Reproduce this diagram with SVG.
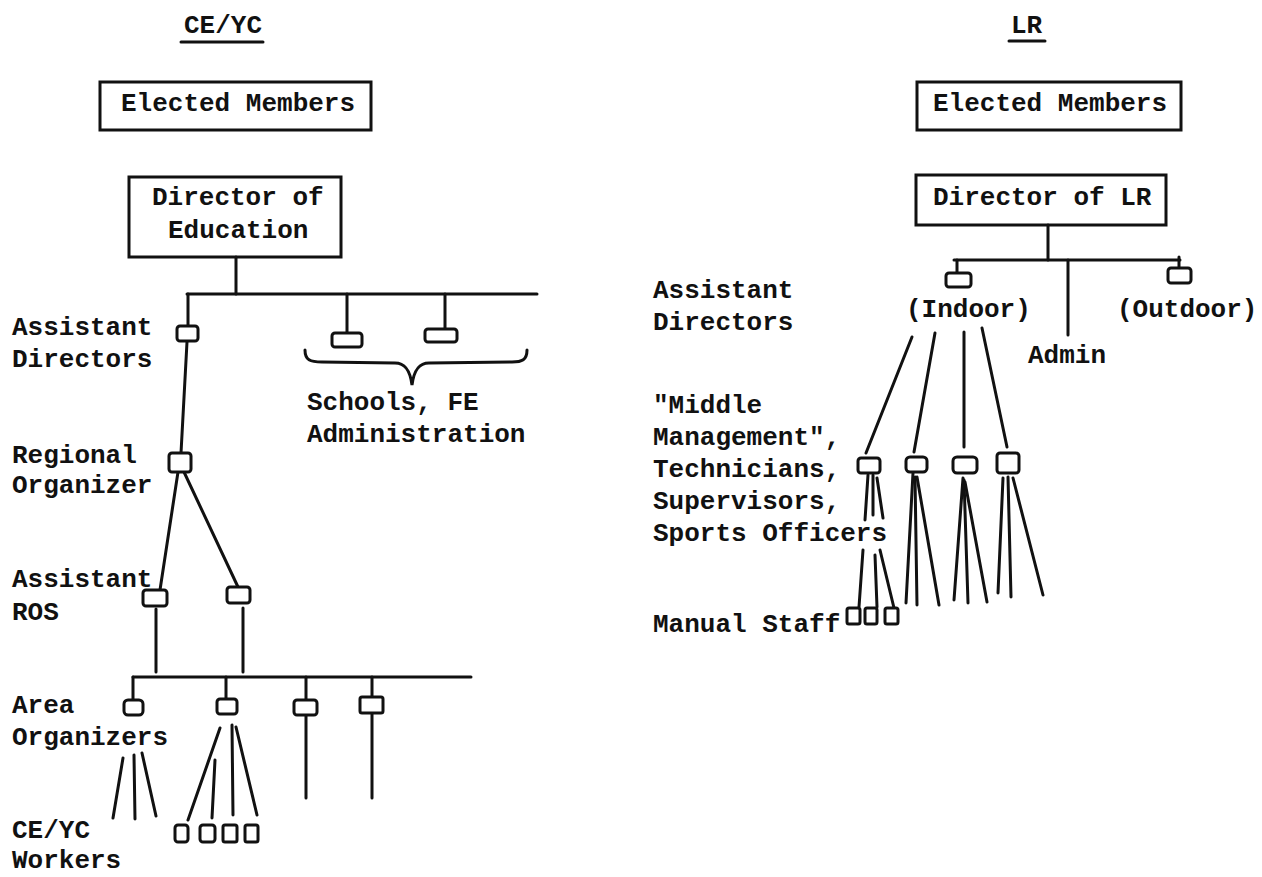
<svg xmlns="http://www.w3.org/2000/svg" width="1262" height="877" viewBox="0 0 1262 877">
<style>
  text { font-family: "Liberation Mono", "Courier New", monospace; font-size: 26px; font-weight: bold; fill: #111; }
  .box { fill: none; stroke: #111; stroke-width: 3; }
  .sb { fill: #fff; stroke: #111; stroke-width: 3; }
  .ln { fill: none; stroke: #111; stroke-width: 3; stroke-linecap: round; }
</style>
<rect width="1262" height="877" fill="#fff"/>

<!-- Titles -->
<g id="title-ceyc">
  <text x="184" y="33">CE/YC</text>
  <line class="ln" x1="181" y1="42" x2="263" y2="42"/>
</g>
<g id="title-lr">
  <text x="1011" y="33">LR</text>
  <line class="ln" x1="1009" y1="41" x2="1045" y2="41"/>
</g>

<!-- Connectors -->
<g id="connectors">
  <!-- left tree -->
  <line class="ln" x1="236" y1="257" x2="236" y2="294"/>
  <line class="ln" x1="187" y1="294" x2="537" y2="294"/>
  <line class="ln" x1="188" y1="294" x2="188" y2="326"/>
  <line class="ln" x1="347" y1="294" x2="347" y2="333"/>
  <line class="ln" x1="445" y1="294" x2="445" y2="329"/>
  <path class="ln" d="M305,350 C305,360 310,362 322,362 L395,363 C405,363 410,370 412,385 C414,370 419,363 429,363 L512,362 C522,362 527,360 527,350"/>
  <line class="ln" x1="187" y1="342" x2="181" y2="453"/>
  <line class="ln" x1="178" y1="472" x2="160" y2="590"/>
  <line class="ln" x1="184" y1="472" x2="238" y2="587"/>
  <line class="ln" x1="156" y1="609" x2="156" y2="672"/>
  <line class="ln" x1="243" y1="608" x2="243" y2="672"/>
  <line class="ln" x1="133" y1="677" x2="471" y2="677"/>
  <line class="ln" x1="133" y1="677" x2="133" y2="700"/>
  <line class="ln" x1="226" y1="677" x2="226" y2="699"/>
  <line class="ln" x1="306" y1="677" x2="306" y2="700"/>
  <line class="ln" x1="372" y1="677" x2="372" y2="697"/>
  <line class="ln" x1="123" y1="758" x2="113" y2="818"/>
  <line class="ln" x1="134" y1="755" x2="135" y2="819"/>
  <line class="ln" x1="142" y1="753" x2="156" y2="816"/>
  <line class="ln" x1="220" y1="728" x2="188" y2="820"/>
  <line class="ln" x1="215" y1="760" x2="212" y2="818"/>
  <line class="ln" x1="232" y1="725" x2="233" y2="815"/>
  <line class="ln" x1="236" y1="727" x2="257" y2="815"/>
  <line class="ln" x1="306" y1="716" x2="306" y2="798"/>
  <line class="ln" x1="372" y1="713" x2="372" y2="798"/>
  <!-- right tree -->
  <line class="ln" x1="1048" y1="225" x2="1048" y2="260"/>
  <line class="ln" x1="954" y1="260" x2="1180" y2="260"/>
  <line class="ln" x1="957" y1="260" x2="957" y2="273"/>
  <line class="ln" x1="1179" y1="257" x2="1179" y2="268"/>
  <line class="ln" x1="1068" y1="260" x2="1068" y2="335"/>
  <line class="ln" x1="912" y1="337" x2="866" y2="453"/>
  <line class="ln" x1="935" y1="333" x2="914" y2="452"/>
  <line class="ln" x1="964" y1="332" x2="964" y2="447"/>
  <line class="ln" x1="982" y1="328" x2="1007" y2="447"/>
  <line class="ln" x1="868" y1="475" x2="865" y2="520"/>
  <line class="ln" x1="873" y1="475" x2="873" y2="515"/>
  <line class="ln" x1="877" y1="478" x2="883" y2="518"/>
  <line class="ln" x1="863" y1="550" x2="859" y2="607"/>
  <line class="ln" x1="875" y1="555" x2="877" y2="607"/>
  <line class="ln" x1="880" y1="550" x2="894" y2="608"/>
  <line class="ln" x1="913" y1="473" x2="906" y2="603"/>
  <line class="ln" x1="915" y1="477" x2="917" y2="605"/>
  <line class="ln" x1="917" y1="477" x2="939" y2="605"/>
  <line class="ln" x1="963" y1="478" x2="954" y2="600"/>
  <line class="ln" x1="964" y1="480" x2="968" y2="603"/>
  <line class="ln" x1="965" y1="482" x2="987" y2="602"/>
  <line class="ln" x1="1003" y1="478" x2="998" y2="593"/>
  <line class="ln" x1="1008" y1="477" x2="1011" y2="597"/>
  <line class="ln" x1="1013" y1="478" x2="1043" y2="595"/>
</g>

<!-- Left nodes -->
<g id="ceyc-elected-members">
  <rect class="box" x="100" y="82" width="271" height="48"/>
  <text x="121" y="111">Elected Members</text>
</g>
<g id="ceyc-director">
  <rect class="box" x="129" y="177" width="212" height="80"/>
  <text x="152" y="205">Director of</text>
  <text x="168" y="238">Education</text>
</g>
<g id="ceyc-assistant-directors">
  <rect class="sb" x="177" y="326" width="21" height="15" rx="3"/>
  <text x="12" y="335">Assistant</text>
  <text x="12" y="367">Directors</text>
</g>
<g id="schools-fe-admin">
  <rect class="sb" x="332" y="333" width="30" height="14" rx="3"/>
  <rect class="sb" x="425" y="329" width="32" height="13" rx="3"/>
  <text x="307" y="410">Schools, FE</text>
  <text x="307" y="442">Administration</text>
</g>
<g id="regional-organizer">
  <rect class="sb" x="169" y="453" width="22" height="19" rx="3"/>
  <text x="12" y="463">Regional</text>
  <text x="12" y="493">Organizer</text>
</g>
<g id="assistant-ros">
  <rect class="sb" x="143" y="590" width="24" height="16" rx="3"/>
  <rect class="sb" x="227" y="587" width="23" height="16" rx="3"/>
  <text x="12" y="587">Assistant</text>
  <text x="12" y="620">ROS</text>
</g>
<g id="area-organizers">
  <rect class="sb" x="124" y="700" width="19" height="15" rx="4"/>
  <rect class="sb" x="217" y="699" width="20" height="15" rx="3"/>
  <rect class="sb" x="294" y="700" width="23" height="15" rx="3"/>
  <rect class="sb" x="360" y="697" width="23" height="16" rx="2"/>
  <text x="12" y="713">Area</text>
  <text x="12" y="745">Organizers</text>
</g>
<g id="ceyc-workers">
  <rect class="sb" x="175" y="825" width="13" height="17" rx="3"/>
  <rect class="sb" x="200" y="825" width="15" height="17" rx="3"/>
  <rect class="sb" x="223" y="825" width="14" height="17" rx="2"/>
  <rect class="sb" x="245" y="825" width="13" height="17" rx="2"/>
  <text x="12" y="838">CE/YC</text>
  <text x="12" y="868">Workers</text>
</g>

<!-- Right nodes -->
<g id="lr-elected-members">
  <rect class="box" x="917" y="82" width="264" height="48"/>
  <text x="933" y="111">Elected Members</text>
</g>
<g id="lr-director">
  <rect class="box" x="916" y="175" width="250" height="50"/>
  <text x="933" y="205">Director of LR</text>
</g>
<g id="lr-assistant-directors">
  <rect class="sb" x="946" y="273" width="25" height="14" rx="3"/>
  <rect class="sb" x="1168" y="268" width="23" height="15" rx="3"/>
  <text x="653" y="298">Assistant</text>
  <text x="653" y="330">Directors</text>
  <text x="906" y="317">(Indoor)</text>
  <text x="1117" y="317">(Outdoor)</text>
</g>
<g id="lr-admin">
  <text x="1028" y="363">Admin</text>
</g>
<g id="lr-middle-management">
  <rect class="sb" x="858" y="458" width="22" height="15" rx="3"/>
  <rect class="sb" x="906" y="457" width="21" height="15" rx="4"/>
  <rect class="sb" x="953" y="457" width="24" height="16" rx="4"/>
  <rect class="sb" x="997" y="453" width="22" height="20" rx="3"/>
  <text x="653" y="413">"Middle</text>
  <text x="653" y="445">Management",</text>
  <text x="653" y="477">Technicians,</text>
  <text x="653" y="509">Supervisors,</text>
  <text x="653" y="541">Sports Officers</text>
</g>
<g id="lr-manual-staff">
  <rect class="sb" x="847" y="608" width="13" height="16" rx="2"/>
  <rect class="sb" x="865" y="608" width="12" height="16" rx="2"/>
  <rect class="sb" x="885" y="608" width="13" height="16" rx="2"/>
  <text x="653" y="632">Manual Staff</text>
</g>
</svg>
